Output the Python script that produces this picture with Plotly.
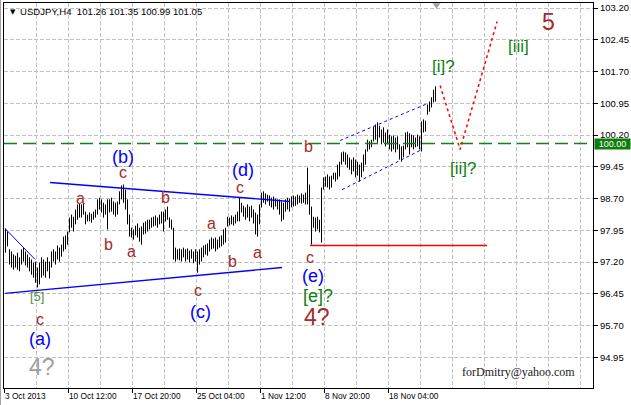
import plotly.graph_objects as go

# ---------------- data ----------------
highs = [97.99, 97.92, 97.50, 97.45, 97.38, 97.35, 97.42, 97.31, 97.50, 97.54,
         97.45, 97.38, 97.31, 97.26, 97.19, 97.21, 97.07, 97.19, 97.31, 97.26,
         97.21, 97.31, 97.21, 97.45, 97.50, 97.45, 97.59, 97.54, 97.61, 97.80,
         97.83, 97.92, 98.25, 98.32, 98.27, 98.44, 98.56, 98.58, 98.56, 98.58,
         98.39, 98.32, 98.37, 98.34, 98.39, 98.44, 98.68, 98.72, 98.68, 98.60,
         98.56, 98.68, 98.68, 98.72, 98.63, 98.60, 98.63, 98.87, 99.01, 99.03,
         98.91, 98.68, 98.32, 98.01, 97.97, 98.06, 98.11, 98.01, 98.04, 98.13,
         98.16, 98.20, 98.20, 98.25, 98.27, 98.30, 98.25, 98.32, 98.39, 98.39,
         98.44, 98.51, 98.25, 98.20, 98.01, 97.54, 97.50, 97.52, 97.50, 97.54,
         97.50, 97.52, 97.47, 97.50, 97.45, 97.50, 97.45, 97.50, 97.54, 97.59,
         97.61, 97.64, 97.73, 97.78, 97.75, 97.78, 97.73, 97.80, 97.83, 97.97,
         98.01, 98.27, 98.25, 98.30, 98.27, 98.32, 98.39, 98.72, 98.60, 98.53,
         98.49, 98.56, 98.51, 98.53, 98.44, 98.37, 98.32, 98.56, 98.84, 98.87,
         98.82, 98.79, 98.77, 98.72, 98.75, 98.70, 98.68, 98.68, 98.63, 98.60,
         98.68, 98.72, 98.70, 98.75, 98.77, 98.75, 98.79, 98.77, 98.82, 98.79,
         98.84, 99.43, 99.03, 98.51, 98.27, 98.25, 98.27, 98.20, 98.96, 99.20,
         99.22, 99.27, 99.22, 99.24, 99.31, 99.31, 99.50, 99.57, 99.79, 99.81,
         99.79, 99.74, 99.67, 99.62, 99.67, 99.62, 99.57, 99.50, 99.55, 99.74,
         99.86, 100.09, 100.05, 100.09, 100.40, 100.45, 100.50, 100.42, 100.33, 100.38,
         100.26, 100.33, 100.21, 100.17, 100.19, 100.14, 100.17, 99.98, 99.93, 99.95,
         100.26, 100.28, 100.24, 100.21, 100.19, 100.14, 100.21, 100.17, 100.52, 100.57,
         100.54, 100.92, 100.99, 101.09, 101.27, 101.35]

lows = [97.42, 97.57, 97.14, 97.07, 97.02, 97.07, 97.02, 96.98, 97.14, 97.21,
        97.12, 97.07, 96.98, 96.90, 96.83, 96.71, 96.60, 96.67, 96.83, 96.88,
        96.83, 96.98, 96.81, 97.07, 97.21, 97.14, 97.26, 97.21, 97.33, 97.45,
        97.50, 97.61, 97.90, 98.01, 97.92, 98.09, 98.20, 98.25, 98.25, 98.32,
        98.09, 98.16, 98.16, 98.13, 98.20, 98.25, 98.32, 98.44, 98.37, 98.25,
        98.32, 97.97, 98.37, 98.39, 98.32, 98.27, 98.32, 98.56, 98.68, 98.60,
        98.44, 98.09, 97.80, 97.78, 97.73, 97.83, 97.78, 97.68, 97.61, 97.85,
        97.87, 97.92, 97.97, 98.01, 98.04, 98.06, 98.01, 98.09, 98.11, 97.92,
        98.16, 98.20, 98.01, 97.97, 97.26, 97.21, 97.26, 97.24, 97.21, 97.31,
        97.21, 97.26, 97.19, 97.28, 97.17, 97.21, 96.95, 97.14, 97.21, 97.31,
        97.38, 97.35, 97.45, 97.50, 97.52, 97.45, 97.50, 97.54, 97.57, 97.61,
        97.66, 98.04, 98.06, 98.09, 98.06, 98.11, 98.16, 98.16, 98.37, 98.27,
        98.20, 98.25, 98.16, 98.25, 98.11, 97.85, 97.80, 98.09, 98.49, 98.60,
        98.56, 98.63, 98.53, 98.49, 98.44, 98.51, 98.44, 98.32, 98.16, 98.20,
        98.39, 98.44, 98.39, 98.49, 98.51, 98.53, 98.56, 98.60, 98.58, 98.60,
        98.56, 98.56, 98.32, 97.61, 98.01, 97.92, 97.97, 97.90, 97.66, 98.91,
        98.98, 98.96, 98.91, 98.96, 99.15, 99.10, 99.15, 99.22, 99.50, 99.57,
        99.50, 99.43, 99.38, 99.27, 99.34, 99.20, 99.24, 99.10, 99.20, 99.34,
        99.50, 99.81, 99.86, 99.91, 100.05, 100.09, 100.02, 100.14, 99.98, 100.02,
        99.93, 99.98, 99.86, 99.81, 99.86, 99.79, 99.86, 99.62, 99.57, 99.67,
        99.86, 99.91, 99.74, 99.91, 99.86, 99.91, 99.93, 99.86, 99.81, 100.26,
        100.28, 100.68, 100.75, 100.85, 100.97, 100.99]

time_labels = ["3 Oct 2013", "10 Oct 12:00", "17 Oct 20:00", "25 Oct 04:00",
               "1 Nov 12:00", "8 Nov 20:00", "18 Nov 04:00"]
time_label_bars = [0, 32, 64, 96, 128, 160, 192]

price_ticks = [94.95, 95.70, 96.45, 97.20, 97.95, 98.70, 99.45,
               100.20, 100.95, 101.70, 102.45, 103.20]

header = "USDJPY,H4  101.26 101.35 100.99 101.05"
level_price = 100.00
support_price = 97.59

# wave lines: (bar index list, price list)
tri_upper = ([22.3, 142.3], [99.08, 98.63])
tri_lower = ([-0.2, 138.3], [96.46, 97.07])
early_line = ([-0.2, 14.8], [97.99, 97.26])
chan_upper = ([167.3, 210.8], [100.07, 100.94])
chan_lower = ([168.3, 208.3], [98.91, 99.86])
projection = ([217.3, 227.3, 245.8], [101.37, 99.86, 102.88])
support_bars = [152.3, 240.8]

BROWN = "#A52A2A"
BLUE = "#0000FF"
GREEN = "#0F7F0F"
wave_labels = [
    ("[5]", 15.75, 96.39, "#4E8E3E", 13),
    ("c", 17.25, 95.84, BROWN, 16),
    ("(a)", 17.25, 95.37, BLUE, 18),
    ("4?", 18.25, 94.73, "#A0A0A0", 23),
    ("a", 37.25, 98.70, BROWN, 16),
    ("b", 51.25, 97.61, BROWN, 16),
    ("(b)", 58.75, 99.69, BLUE, 18),
    ("c", 58.75, 99.31, BROWN, 16),
    ("a", 62.75, 97.45, BROWN, 16),
    ("b", 79.75, 98.72, BROWN, 16),
    ("a", 102.75, 98.11, BROWN, 16),
    ("c", 96.25, 96.53, BROWN, 16),
    ("(c)", 97.25, 96.03, BLUE, 18),
    ("b", 113.25, 97.21, BROWN, 16),
    ("a", 125.75, 97.42, BROWN, 16),
    ("c", 117.25, 98.96, BROWN, 16),
    ("(d)", 118.75, 99.38, BLUE, 18),
    ("b", 151.25, 99.93, BROWN, 16),
    ("c", 152.25, 97.31, BROWN, 16),
    ("(e)", 153.75, 96.86, BLUE, 18),
    ("[e]?", 156.25, 96.39, GREEN, 18),
    ("4?", 155.75, 95.89, BROWN, 23),
    ("[i]?", 218.75, 101.82, GREEN, 17),
    ("[ii]?", 228.75, 99.41, GREEN, 17),
    ("[iii]", 256.25, 102.29, GREEN, 17),
    ("5", 271.25, 102.88, BROWN, 23),
]

# ---------------- figure ----------------
FONT = "Liberation Sans, Arial, sans-serif"
fig = go.Figure()

bx, by = [], []
for i, (h, l) in enumerate(zip(highs, lows)):
    bx += [i, i, None]
    by += [l, h, None]
fig.add_trace(go.Scatter(x=bx, y=by, mode="lines",
                         line=dict(color="black", width=1), hoverinfo="skip"))

def add_line(xs, ys, color, width=1.0, dash="solid"):
    fig.add_trace(go.Scatter(x=xs, y=ys, mode="lines",
                             line=dict(color=color, width=width, dash=dash),
                             hoverinfo="skip", cliponaxis=False))

add_line(*tri_upper, BLUE, 1.4)
add_line(*tri_lower, BLUE, 1.4)
add_line(*early_line, BLUE, 1.0)
add_line(*chan_upper, BLUE, 1.0, "3px,3px")
add_line(*chan_lower, BLUE, 1.0, "3px,3px")
add_line(support_bars, [support_price, support_price], "#FF0000", 1.6)
add_line(*projection, "#FF0000", 1.5, "3px,3px")

# horizontal level 100.00
fig.add_shape(type="line", xref="paper", x0=0, x1=1, y0=level_price, y1=level_price,
              line=dict(color="#138013", width=1.4, dash="13px,6px"))

for text, xi, yp, color, size in wave_labels:
    fig.add_annotation(x=xi, y=yp, text=text, showarrow=False,
                       font=dict(family=FONT, size=size, color=color))

fig.add_annotation(x=256.25, y=94.61, text="forDmitry@yahoo.com", showarrow=False,
                   font=dict(family="Liberation Serif, Times New Roman, serif", size=12, color="#1a1a1a"))

# header
fig.add_annotation(xref="paper", yref="paper", x=0, y=1, xanchor="left", yanchor="top",
                   xshift=4, yshift=-3, text="▼", showarrow=False,
                   font=dict(family="DejaVu Sans", size=7, color="black"))
fig.add_annotation(xref="paper", yref="paper", x=0, y=1, xanchor="left", yanchor="top",
                   xshift=14, yshift=-1, text=header, showarrow=False,
                   font=dict(family=FONT, size=9.6, color="black"))

# shift marker at top
fig.add_trace(go.Scatter(x=[215.5], y=[103.27], mode="markers",
                         marker=dict(symbol="triangle-down", size=7, color="#A0A0A0"),
                         hoverinfo="skip", cliponaxis=False))

# level price box
fig.add_annotation(xref="paper", x=1, y=level_price, xanchor="left", text="100.00",
                   showarrow=False, xshift=1, bgcolor="#0B7D0B", borderpad=0,
                   width=35, height=10, align="center",
                   font=dict(family=FONT, size=9, color="white"))

# time labels (left aligned at their ticks)
tick_pos = [b - 0.5 for b in time_label_bars]
for t, p in zip(time_labels, tick_pos):
    fig.add_annotation(x=p, xref="x", yref="paper", y=0, xanchor="left", yanchor="top",
                       yshift=-1, xshift=-2, text=t, showarrow=False,
                       font=dict(family=FONT, size=8.3, color="black"))

minor_grid = [15.5 + 16 * k for k in range(18)]
minor_grid = [g for g in minor_grid if g not in tick_pos]

fig.update_xaxes(range=[-0.75, 293.75], showgrid=True, gridcolor="#C0C0C0",
                 griddash="4px,2px", gridwidth=1, tickvals=tick_pos,
                 showticklabels=False, ticks="outside", ticklen=4, tickcolor="black",
                 showline=True, linecolor="black", linewidth=1, mirror=True,
                 zeroline=False,
                 minor=dict(tickvals=minor_grid, showgrid=True, gridcolor="#C0C0C0",
                            griddash="4px,2px", gridwidth=1, ticks=""))
fig.update_yaxes(range=[94.224, 103.319], side="right", tickvals=price_ticks,
                 tickformat=".2f", showgrid=True, gridcolor="#C0C0C0",
                 griddash="4px,2px", gridwidth=1, ticks="outside", ticklen=4,
                 tickcolor="black", showline=True, linecolor="black", linewidth=1,
                 mirror=True, zeroline=False,
                 tickfont=dict(family=FONT, size=9.5, color="black"))

fig.add_shape(type="line", xref="paper", yref="paper", x0=-0.0059, x1=-0.0059, y0=-0.05, y1=1.01,
              line=dict(color="#A0A0A0", width=1))

fig.update_layout(width=631, height=405, margin=dict(l=4, r=38, t=3, b=17),
                  paper_bgcolor="white", plot_bgcolor="white", showlegend=False,
                  hovermode=False)

fig.write_html("out.html", config={"displayModeBar": False},
               post_script="document.body.style.margin='0px';document.body.style.padding='0px';document.body.style.overflow='hidden';")
